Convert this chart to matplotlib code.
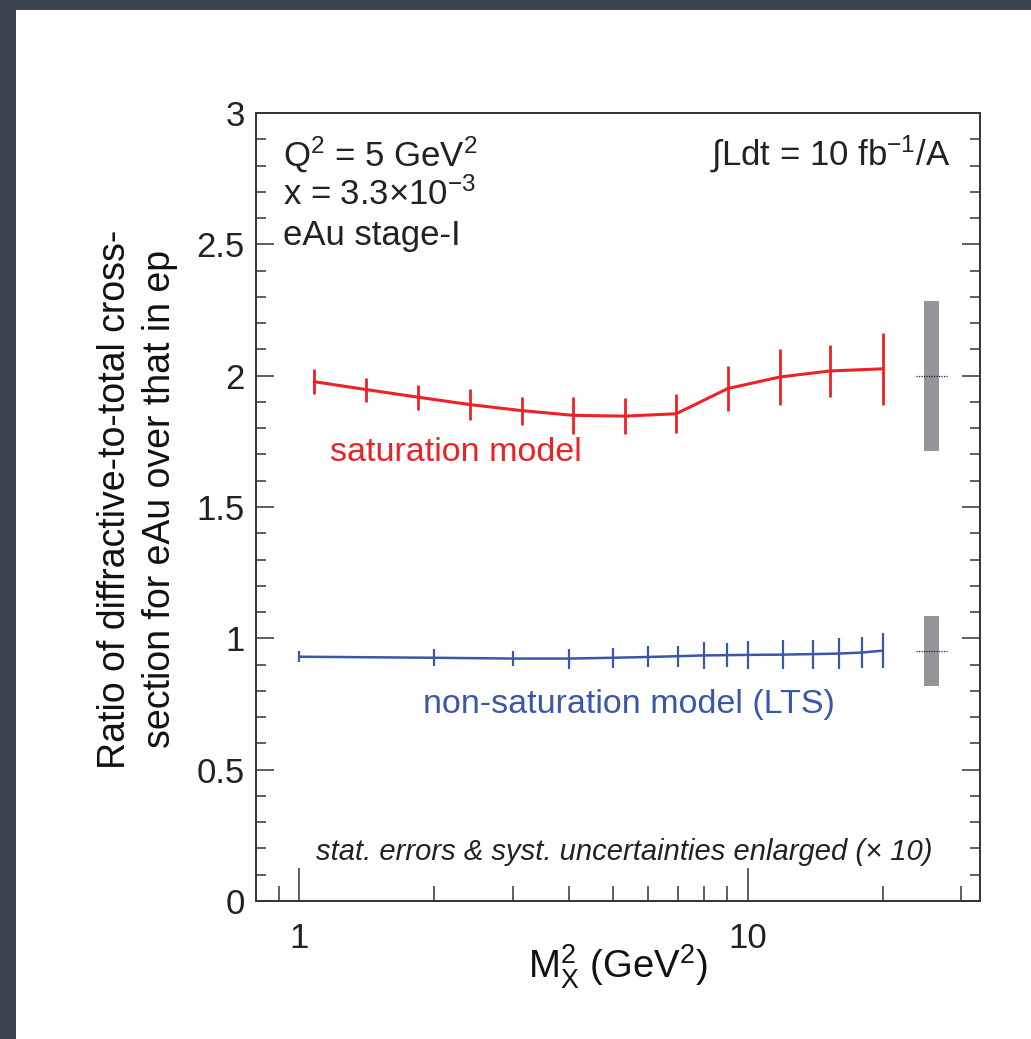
import matplotlib
matplotlib.use("Agg")
import matplotlib.pyplot as plt
from matplotlib.patches import Rectangle
from matplotlib.ticker import FixedLocator, FixedFormatter, NullFormatter

plt.rcParams['font.family'] = ['Liberation Sans', 'DejaVu Sans']
plt.rcParams['mathtext.fontset'] = 'custom'
plt.rcParams['mathtext.rm'] = 'Liberation Sans'
plt.rcParams['mathtext.it'] = 'Liberation Sans:italic'

# saturation model (red)
sat_x = [1.08, 1.41, 1.84, 2.40, 3.13, 4.08, 5.32, 6.93, 9.03, 11.8, 15.3, 20.0]
sat_y = [1.977, 1.947, 1.918, 1.890, 1.867, 1.849, 1.846, 1.855, 1.951, 1.995, 2.018, 2.026]
sat_err = [0.048, 0.046, 0.048, 0.058, 0.053, 0.070, 0.068, 0.075, 0.086, 0.106, 0.099, 0.137]

# non-saturation model LTS (blue)
lts_x = [1, 2, 3, 4, 5, 6, 7, 8, 9, 10, 12, 14, 16, 18, 20]
lts_y = [0.930, 0.926, 0.923, 0.923, 0.926, 0.929, 0.932, 0.935, 0.936, 0.937,
         0.938, 0.940, 0.942, 0.946, 0.953]
lts_err = [0.021, 0.033, 0.029, 0.038, 0.038, 0.040, 0.040, 0.050, 0.047, 0.053,
           0.054, 0.055, 0.060, 0.060, 0.067]

# systematic uncertainty boxes (x range, centre, half height)
syst_x = [24.7, 26.7]
dot_x = [23.7, 27.8]
sat_syst = (2.0, 0.285)
lts_syst = (0.951, 0.134)

red = '#ec2227'
blue = '#3b57a8'
grey = '#939598'
frame = '#333333'

fig = plt.figure(figsize=(10.31, 10.39), dpi=100)
fig.patch.set_facecolor('#3c424e')
fig.patches.append(Rectangle((16 / 1031, 0), 1, 1 - 10 / 1039, transform=fig.transFigure,
                             facecolor='white', edgecolor='none', zorder=-10))

ax = fig.add_axes([256 / 1031, 138 / 1039, 724 / 1031, 788 / 1039])
ax.set_zorder(5)
ax.set_xscale('log')
ax.set_xlim(0.8, 33)
ax.set_ylim(0, 3)

# syst boxes
for c, h in (sat_syst, lts_syst):
    ax.fill_between(syst_x, c - h, c + h, color=grey, lw=0, zorder=2)
    ax.plot(dot_x, [c, c], ls=(0, (1, 1)), color='#222222', lw=0.9, zorder=3)

ax.errorbar(sat_x, sat_y, yerr=sat_err, fmt='-', color=red, lw=2.2, elinewidth=2.0,
            capsize=0, zorder=4)
ax.errorbar(lts_x, lts_y, yerr=lts_err, fmt='-', color=blue, lw=1.8, elinewidth=1.6,
            capsize=0, zorder=4)

# axes style
for s in ax.spines.values():
    s.set_color(frame)
    s.set_linewidth(1.4)
ax.xaxis.set_major_locator(FixedLocator([1, 10]))
ax.xaxis.set_major_formatter(FixedFormatter(['1', '10']))
ax.xaxis.set_minor_locator(FixedLocator([0.9, 2, 3, 4, 5, 6, 7, 8, 9, 20, 30]))
ax.xaxis.set_minor_formatter(NullFormatter())
ax.set_yticks([0, 0.5, 1, 1.5, 2, 2.5, 3])
ax.set_yticklabels(['0', '0.5', '1', '1.5', '2', '2.5', '3'])
ax.set_yticks([i / 10 for i in range(31)], minor=True)
ax.tick_params(axis='x', which='major', direction='in', length=24, width=1.1, color=frame,
               labelsize=25, pad=15, top=False, labelcolor='#222222')
ax.tick_params(axis='x', which='minor', direction='in', length=11, width=1.1, color=frame,
               top=False)
ax.tick_params(axis='y', which='major', direction='in', length=13, width=1.1, color=frame,
               labelsize=25, pad=8, right=True, labelcolor='#222222')
ax.tick_params(axis='y', which='minor', direction='in', length=7, width=1.1, color=frame,
               right=True)

ax.set_xlabel(r'M$_{\mathrm{X}}^{2}$ (GeV$^{2}$)', fontsize=27.5, labelpad=-9, color='#111111')
ax.set_ylabel('Ratio of diffractive-to-total cross-\nsection for eAu over that in ep',
              fontsize=27, linespacing=1.3, color='#111111')
ax.yaxis.set_label_coords(-0.108, 0.51)

# annotations
ax.text(0.037, 0.9315, r'Q$^{2}$ = 5 GeV$^{2}$', transform=ax.transAxes, fontsize=25,
        va='baseline', color='#222222')
ax.text(0.037, 0.883, r'x = 3.3×10$^{-3}$', transform=ax.transAxes, fontsize=25,
        va='baseline', color='#222222')
ax.text(0.037, 0.8325, 'eAu stage-I', transform=ax.transAxes, fontsize=25, va='baseline',
        color='#222222')
ax.text(0.9586, 0.934, r'∫Ldt = 10 fb$^{-1}$/A', transform=ax.transAxes, fontsize=25,
        va='baseline', ha='right', color='#222222')
ax.text(0.102, 0.558, 'saturation model', transform=ax.transAxes, fontsize=24.5,
        va='baseline', color=red)
ax.text(0.2307, 0.2386, 'non-saturation model (LTS)', transform=ax.transAxes, fontsize=24.5,
        va='baseline', color=blue)
ax.text(0.509, 0.052, 'stat. errors & syst. uncertainties enlarged (× 10)',
        transform=ax.transAxes, fontsize=21, style='italic', va='baseline', ha='center',
        color='#222222')

fig.savefig('out.png', dpi=100, facecolor=fig.get_facecolor())
